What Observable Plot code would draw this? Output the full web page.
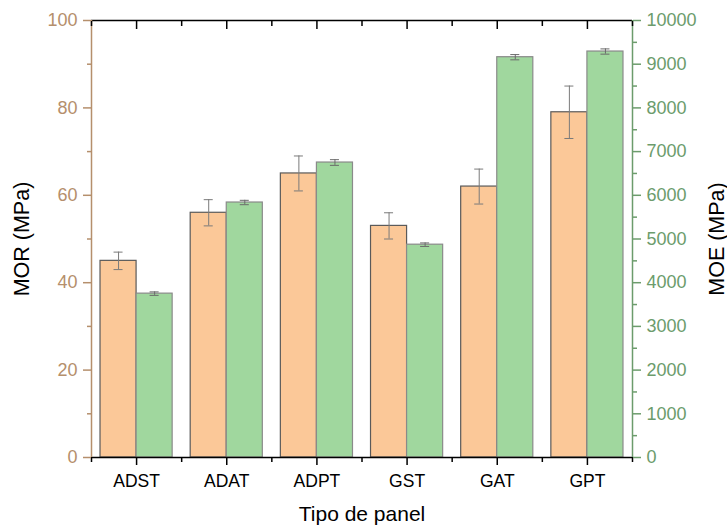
<!DOCTYPE html>
<html>
<head>
<meta charset="utf-8">
<script src="https://cdn.jsdelivr.net/npm/d3@7"></script>
<script src="https://cdn.jsdelivr.net/npm/@observablehq/plot@0.6"></script>
<style>
  html, body { margin: 0; padding: 0; background: #fff; }
  svg { display: block; }
</style>
</head>
<body>
<div id="chart"></div>
<script>
const categories = ["ADST", "ADAT", "ADPT", "GST", "GAT", "GPT"];
const morValues = [45, 56, 65, 53, 62, 79];
const morErrors = [2, 3, 4, 3, 4, 6];
const moeValues = [3750, 5835, 6750, 4870, 9160, 9290];
const moeErrors = [40, 50, 65, 40, 60, 60];
const leftTicks = [0, 20, 40, 60, 80, 100];
const rightTicks = [0, 1000, 2000, 3000, 4000, 5000, 6000, 7000, 8000, 9000, 10000];

const TAN = "#b58f6c";
const GREEN = "#6c9c6c";
const FONT = "'Liberation Sans', Arial, sans-serif";
const BW = 0.4;        // bar width in category units
const CAP = 0.05;      // half-width of error-bar caps in category units
const MOE_RATIO = 100; // MOE axis max / MOR axis max

const mor = categories.map((c, i) => ({cat: c, i, x1: i - BW, x2: i, xc: i - BW / 2, v: morValues[i], e: morErrors[i]}));
const moe = categories.map((c, i) => ({cat: c, i, x1: i, x2: i + BW, xc: i + BW / 2, v: moeValues[i] / MOE_RATIO, e: moeErrors[i] / MOE_RATIO}));
const caps = (arr) => arr.flatMap(d => [
  {x1: d.xc - CAP, x2: d.xc + CAP, y: d.v + d.e},
  {x1: d.xc - CAP, x2: d.xc + CAP, y: d.v - d.e}
]);

const chart = Plot.plot({
  width: 727,
  height: 527,
  marginLeft: 91,
  marginRight: 95,
  marginTop: 20,
  marginBottom: 70,
  style: {fontFamily: FONT, background: "#fff"},
  x: {type: "linear", domain: [-0.5, categories.length - 0.5], axis: null},
  y: {type: "linear", domain: [0, 100], axis: null},
  marks: [
    Plot.rectY(mor, {x1: "x1", x2: "x2", y1: 0, y2: "v", fill: "#fbc898", stroke: "#5a5a5a", strokeWidth: 1.2}),
    Plot.rectY(moe, {x1: "x1", x2: "x2", y1: 0, y2: "v", fill: "#a0d79e", stroke: "#8a8a8a", strokeWidth: 1.2}),
    // error bars
    Plot.ruleX(mor, {x: "xc", y1: d => d.v - d.e, y2: d => d.v + d.e, stroke: "#7a7a7a", strokeWidth: 1}),
    Plot.ruleY(caps(mor), {x1: "x1", x2: "x2", y: "y", stroke: "#7a7a7a", strokeWidth: 1}),
    Plot.ruleX(moe, {x: "xc", y1: d => d.v - d.e, y2: d => d.v + d.e, stroke: "#6a6a6a", strokeWidth: 1}),
    Plot.ruleY(caps(moe), {x1: "x1", x2: "x2", y: "y", stroke: "#6a6a6a", strokeWidth: 1}),
    // frame lines
    Plot.ruleY([0], {stroke: "#000", strokeWidth: 1.5}),
    Plot.ruleY([100], {stroke: "#000", strokeWidth: 1.5}),
    Plot.ruleX([-0.5], {stroke: TAN, strokeWidth: 1.5}),
    Plot.ruleX([categories.length - 0.5], {stroke: GREEN, strokeWidth: 1.5}),
    // bottom axis
    Plot.axisX({anchor: "bottom", ticks: categories.map((c, i) => i), tickFormat: i => categories[i], tickSize: 8, tickPadding: 9, fontSize: 17.5, color: "#000", strokeWidth: 1.5, label: null}),
    Plot.axisX({anchor: "bottom", ticks: d3.range(-0.5, categories.length, 1), tickFormat: () => "", tickSize: 5, strokeWidth: 1.5, color: "#000", label: null}),
    Plot.axisX({anchor: "bottom", ticks: [], label: "Tipo de panel", labelAnchor: "center", labelArrow: "none", labelOffset: 63, fontSize: 21, color: "#000"}),
    // top inward ticks
    Plot.axisX({anchor: "top", ticks: categories.map((c, i) => i), tickFormat: () => "", tickSize: -8, strokeWidth: 1.5, color: "#000", label: null}),
    Plot.axisX({anchor: "top", ticks: d3.range(-0.5, categories.length, 1), tickFormat: () => "", tickSize: -5, strokeWidth: 1.5, color: "#000", label: null}),
    // left axis
    Plot.axisY({anchor: "left", ticks: leftTicks, tickSize: 8, tickPadding: 6, fontSize: 18, color: TAN, strokeWidth: 1.5, label: null}),
    Plot.axisY({anchor: "left", ticks: [10, 30, 50, 70, 90], tickFormat: () => "", tickSize: 4, color: TAN, strokeWidth: 1.5, label: null}),
    Plot.axisY({anchor: "left", ticks: [], label: "MOR (MPa)", labelAnchor: "center", labelArrow: "none", labelOffset: 78, fontSize: 21.5, color: "#000"}),
    // right axis (MOE)
    Plot.axisY({anchor: "right", ticks: rightTicks.map(t => t / MOE_RATIO), tickFormat: d => String(Math.round(d * MOE_RATIO)), tickSize: 8, tickPadding: 6, fontSize: 18, color: GREEN, strokeWidth: 1.5, label: null}),
    Plot.axisY({anchor: "right", ticks: d3.range(5, 100, 10), tickFormat: () => "", tickSize: 4, color: GREEN, strokeWidth: 1.5, label: null}),
    Plot.axisY({anchor: "right", ticks: [], label: "MOE (MPa)", labelAnchor: "center", labelArrow: "none", labelOffset: 91, fontSize: 21.5, color: "#000"})
  ]
});
document.getElementById("chart").appendChild(chart);
</script>
</body>
</html>
